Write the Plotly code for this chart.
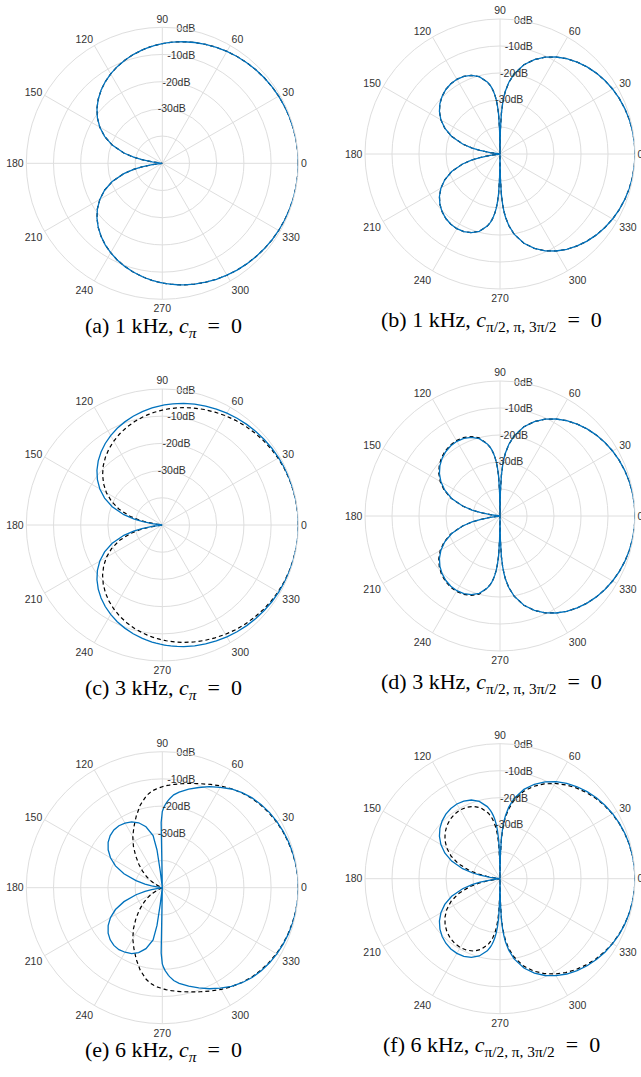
import plotly.graph_objects as go

# ---------------- data ----------------
# Half-plane angles in degrees; every pattern is symmetric about 0 deg,
# values for 180..360 are the mirror image of 0..180.
theta_half = [0, 5, 10, 15, 20, 25, 30, 35, 40, 45, 50, 55, 60, 65, 70, 75, 80,
              83, 85, 86, 87, 88, 89, 90, 91, 92, 93, 94, 95, 96, 97, 98,
              100,
              105, 110, 115, 120, 125, 130, 135, 140, 145, 150, 155, 160, 165,
              168, 170, 172, 174, 176, 178, 180]

# (a) 1 kHz, c_pi = 0  (solid and dashed coincide)
a_solid = [0, -0.02, -0.07, -0.15, -0.27, -0.42, -0.60, -0.82, -1.08, -1.38, -1.71, -2.08, -2.50, -2.96, -3.47, -4.02, -4.63,
           -5.02, -5.30, -5.43, -5.58, -5.72, -5.87, -6.02, -6.17, -6.33, -6.49, -6.65, -6.81, -6.98, -7.15, -7.32,
           -7.68,
           -8.62, -9.66, -10.79, -12.04, -13.42, -14.96, -16.69, -18.64, -20.87, -23.48, -26.59, -30.41, -35.37,
           -39.23, -42.39, -46.26, -50, -50, -50, -50]
a_dashed = list(a_solid)

# (b) 1 kHz, c_{pi/2, pi, 3pi/2} = 0
b_solid = [0, -0.05, -0.20, -0.45, -0.81, -1.27, -1.85, -2.56, -3.40, -4.39, -5.55, -6.91, -8.52, -10.44, -12.78, -15.76, -19.84,
           -23.30, -26.49, -28.56, -31.20, -34.87, -41.03, -50, -41.34, -35.47, -32.11, -29.78, -28.01, -26.60, -25.43, -24.45,
           -22.88,
           -20.36, -18.98, -18.27, -18.06, -18.25, -18.80, -19.70, -20.95, -22.61, -24.73, -27.44, -30.95, -35.67,
           -39.42, -42.52, -46.34, -50, -50, -50, -50]
b_dashed = list(b_solid)

# (c) 3 kHz, c_pi = 0
c_solid = list(a_solid)
c_dashed = [0, -0.02, -0.09, -0.20, -0.37, -0.57, -0.85, -1.17, -1.58, -2.03, -2.51, -3.03, -3.60, -4.21, -4.82, -5.47, -6.18,
            -6.62, -6.95, -7.10, -7.26, -7.42, -7.59, -7.75, -7.92, -8.10, -8.28, -8.46, -8.64, -8.83, -9.02, -9.21,
            -9.58,
            -10.62, -11.76, -12.99, -14.34, -15.82, -17.46, -19.29, -21.34, -23.67, -26.28, -29.39, -33.11, -37.87,
            -41.53, -44.39, -47.76, -50, -50, -50, -50]

# (d) 3 kHz, c_{pi/2, pi, 3pi/2} = 0
d_solid = list(b_solid)
d_dashed = [0, -0.05, -0.20, -0.45, -0.81, -1.27, -1.85, -2.56, -3.40, -4.39, -5.55, -6.91, -8.52, -10.44, -12.78, -15.76, -19.84,
            -23.30, -26.49, -28.56, -31.20, -34.87, -41.03, -50, -41.34, -35.47, -32.11, -29.78, -28.01, -26.60, -25.43, -24.45,
            -22.88,
            -20.06, -18.68, -17.97, -17.76, -17.95, -18.50, -19.40, -20.65, -22.31, -24.43, -27.14, -30.65, -35.67,
            -39.42, -42.52, -46.34, -50, -50, -50, -50]

# (e) 6 kHz, c_pi = 0
e_solid = [0, -0.04, -0.15, -0.35, -0.62, -0.95, -1.35, -1.85, -2.5, -3.3, -4.4, -5.7, -7.4, -9.0, -10.8, -12.5, -14.3,
           -15.6, -17.0, -17.7, -18.6, -19.5, -20.6, -22.0, -26.0, -50, -50, -50, -50, -50, -44, -36,
           -30.5,
           -26.8, -24.6, -23.3, -22.6, -22.2, -22.3, -22.9, -24.0, -25.7, -28.0, -31.0, -35.0, -40.0,
           -43.5, -46.0, -49.0, -50, -50, -50, -50]
e_dashed = [0, -0.05, -0.2, -0.45, -0.75, -1.1, -1.55, -2.1, -2.75, -3.5, -4.5, -5.6, -6.8, -8.1, -9.3, -10.3, -11.2,
            -11.7, -12.0, -12.2, -12.35, -12.5, -12.7, -12.9, -13.1, -13.3, -13.5, -13.75, -14.0, -14.3, -14.6, -15.0,
            -15.8,
            -18.6, -22.0, -25.3, -28.3, -31.5, -34.8, -37.8, -40.5, -43.0, -45.5, -48.0, -50, -50,
            -50, -50, -50, -50, -50, -50, -50]

# (f) 6 kHz, c_{pi/2, pi, 3pi/2} = 0
f_solid = list(b_solid)
f_dashed = [0, -0.05, -0.21, -0.48, -0.86, -1.35, -1.97, -2.76, -3.70, -4.84, -6.10, -7.56, -9.27, -11.24, -13.58, -16.56, -20.64,
            -24.10, -27.29, -29.36, -32.00, -35.67, -41.83, -50, -43.84, -37.97, -34.61, -32.28, -30.51, -29.10, -27.93, -26.95,
            -25.38,
            -22.86, -21.48, -20.77, -20.56, -20.75, -21.30, -22.20, -23.45, -25.11, -27.23, -29.94, -33.45, -38.17,
            -41.92, -45.02, -48.84, -50, -50, -50, -50]

angle_ticks = [0, 30, 60, 90, 120, 150, 180, 210, 240, 270, 300, 330]
angle_labels = ["0", "30", "60", "90", "120", "150", "180", "210", "240", "270", "300", "330"]
radial_grid = [-40, -30, -20, -10, 0]
radial_label_vals = [0, -10, -20, -30]
radial_labels = ["0dB", "-10dB", "-20dB", "-30dB"]
r_min, r_max = -50, 0

EQ = "\u2002=\u2002"
captions = [
    "(a) 1 kHz, <i>c</i><sub><i>π</i></sub>" + EQ + "0",
    "(b) 1 kHz, <i>c</i><sub>π/2, π, 3π/2</sub>" + EQ + "0",
    "(c) 3 kHz, <i>c</i><sub><i>π</i></sub>" + EQ + "0",
    "(d) 3 kHz, <i>c</i><sub>π/2, π, 3π/2</sub>" + EQ + "0",
    "(e) 6 kHz, <i>c</i><sub><i>π</i></sub>" + EQ + "0",
    "(f) 6 kHz, <i>c</i><sub>π/2, π, 3π/2</sub>" + EQ + "0",
]

# ---------------- layout geometry ----------------
W, H = 641, 1077
# (center x, center y, radius) in pixels, top-left origin
geom = [
    (162.3, 163.3, 136), (500.0, 154.0, 135),
    (162.3, 525.0, 136), (500.0, 516.0, 135),
    (162.3, 887.7, 136), (500.0, 878.7, 135),
]
caption_pos = [(163, 327), (491, 321), (163, 689), (491, 683), (163, 1051), (491, 1046)]

BLUE = "#0072BD"
GRID = "#dedede"
TXT = "#333333"


def full(vals):
    return list(vals) + list(vals[-2::-1])


theta_full = list(theta_half) + [360 - t for t in theta_half[-2::-1]]

series = [(a_solid, a_dashed), (b_solid, b_dashed), (c_solid, c_dashed),
          (d_solid, d_dashed), (e_solid, e_dashed), (f_solid, f_dashed)]

fig = go.Figure()
layout_polars = {}
annotations = []
for i, ((solid, dashed), (cx, cy, R), cap, (capx, capy)) in enumerate(zip(series, geom, captions, caption_pos)):
    pname = "polar" if i == 0 else f"polar{i + 1}"
    fig.add_trace(go.Scatterpolar(
        r=full(dashed), theta=theta_full, mode="lines", subplot=pname,
        line=dict(color="black", width=1.2, dash="4px,3px"), cliponaxis=False,
        hoverinfo="skip", showlegend=False))
    fig.add_trace(go.Scatterpolar(
        r=full(solid), theta=theta_full, mode="lines", subplot=pname,
        line=dict(color=BLUE, width=1.3), cliponaxis=False,
        hoverinfo="skip", showlegend=False))
    fig.add_trace(go.Scatterpolar(
        r=radial_label_vals, theta=[80] * len(radial_label_vals), mode="text",
        text=radial_labels, textposition="middle center", subplot=pname,
        textfont=dict(family="Liberation Sans, Arial, sans-serif", size=10.5, color=TXT),
        cliponaxis=False, hoverinfo="skip", showlegend=False))
    layout_polars[pname] = dict(
        domain=dict(x=[(cx - R) / W, (cx + R) / W], y=[1 - (cy + R) / H, 1 - (cy - R) / H]),
        bgcolor="white",
        radialaxis=dict(range=[r_min, r_max], tickvals=radial_grid, showticklabels=False,
                        ticks="", showline=False, gridcolor=GRID, gridwidth=1, angle=80),
        angularaxis=dict(tickvals=angle_ticks, ticktext=angle_labels, direction="counterclockwise",
                         rotation=0, ticks="", showline=True, linecolor=GRID, linewidth=1,
                         gridcolor=GRID, gridwidth=1,
                         tickfont=dict(family="Liberation Sans, Arial, sans-serif", size=10.5, color=TXT)),
    )
    annotations.append(dict(
        text=cap, x=capx / W, y=1 - capy / H, xref="paper", yref="paper",
        xanchor="center", yanchor="middle", showarrow=False,
        font=dict(family="Liberation Serif, Times New Roman, serif", size=22, color="black")))

fig.update_layout(
    width=W, height=H, margin=dict(l=0, r=0, t=0, b=0),
    paper_bgcolor="white", plot_bgcolor="white", showlegend=False,
    annotations=annotations, **layout_polars)

fig.write_html("out.html", config={"displayModeBar": False},
               post_script="document.body.style.margin='0px';document.body.style.overflow='hidden';")
